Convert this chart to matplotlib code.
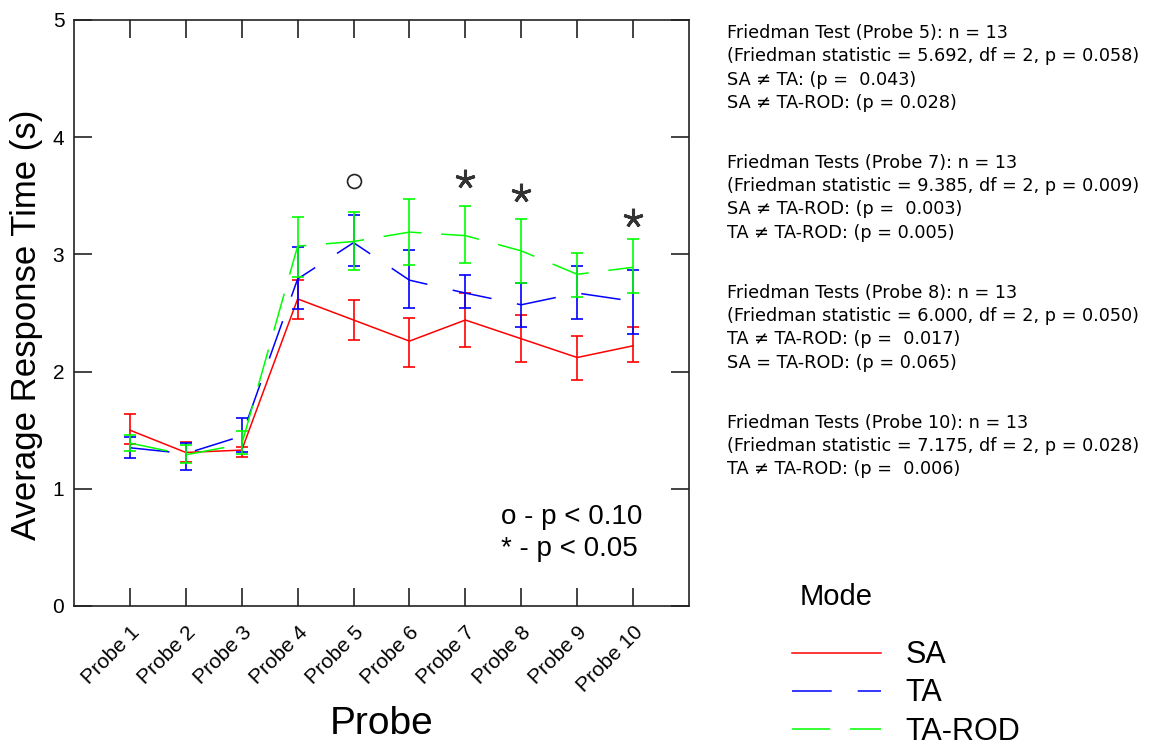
import numpy as np
import matplotlib
matplotlib.use("Agg")
import matplotlib.pyplot as plt

plt.rcParams['font.family'] = ['Liberation Sans', 'DejaVu Sans']

probes = ["Probe 1", "Probe 2", "Probe 3", "Probe 4", "Probe 5",
          "Probe 6", "Probe 7", "Probe 8", "Probe 9", "Probe 10"]

# mean response time per mode, with lower / upper error limits
sa_mean = [1.50, 1.31, 1.33, 2.62, 2.44, 2.26, 2.44, 2.28, 2.12, 2.22]
sa_low = [1.38, 1.23, 1.27, 2.45, 2.27, 2.04, 2.21, 2.08, 1.93, 2.08]
sa_high = [1.64, 1.40, 1.36, 2.78, 2.61, 2.46, 2.67, 2.48, 2.30, 2.38]

ta_mean = [1.35, 1.30, 1.45, 2.79, 3.10, 2.78, 2.67, 2.57, 2.67, 2.60]
ta_low = [1.26, 1.16, 1.31, 2.53, 2.90, 2.54, 2.54, 2.38, 2.45, 2.32]
ta_high = [1.44, 1.39, 1.60, 3.06, 3.34, 3.04, 2.82, 2.76, 2.90, 2.87]

rod_mean = [1.39, 1.29, 1.38, 3.07, 3.11, 3.19, 3.16, 3.03, 2.83, 2.89]
rod_low = [1.32, 1.22, 1.30, 2.81, 2.87, 2.91, 2.93, 2.76, 2.64, 2.67]
rod_high = [1.46, 1.37, 1.49, 3.32, 3.36, 3.47, 3.41, 3.30, 3.01, 3.13]

# significance marks above probes
trend_probe = [5]
trend_y = [3.63]
sig_probes = [7, 8, 10]
sig_y = [3.64, 3.52, 3.31]

stats_blocks = [
    ["Friedman Test (Probe 5): n = 13",
     "(Friedman statistic = 5.692, df = 2, p = 0.058)",
     "SA \u2260 TA: (p =  0.043)",
     "SA \u2260 TA-ROD: (p = 0.028)"],
    ["Friedman Tests (Probe 7): n = 13",
     "(Friedman statistic = 9.385, df = 2, p = 0.009)",
     "SA \u2260 TA-ROD: (p =  0.003)",
     "TA \u2260 TA-ROD: (p = 0.005)"],
    ["Friedman Tests (Probe 8): n = 13",
     "(Friedman statistic = 6.000, df = 2, p = 0.050)",
     "TA \u2260 TA-ROD: (p =  0.017)",
     "SA = TA-ROD: (p = 0.065)"],
    ["Friedman Tests (Probe 10): n = 13",
     "(Friedman statistic = 7.175, df = 2, p = 0.028)",
     "TA \u2260 TA-ROD: (p =  0.006)"],
]

fig = plt.figure(figsize=(11.51, 7.51), dpi=100)
ax = fig.add_axes([0.0643, 0.1931, 0.5343, 0.7803])

x = np.arange(1, len(probes) + 1)

series = [
    ("SA", sa_mean, sa_low, sa_high, "#ff0000", "-"),
    ("TA", ta_mean, ta_low, ta_high, "#0000ff", (0, (26, 17))),
    ("TA-ROD", rod_mean, rod_low, rod_high, "#00ff00", (0, (25, 13))),
]
handles = []
for name, m, lo, hi, col, ls in series:
    m = np.array(m)
    err = [m - np.array(lo), np.array(hi) - m]
    ax.errorbar(x, m, yerr=err, fmt="none", ecolor=col, elinewidth=1.2,
                capsize=4, capthick=1.2)
    line, = ax.plot(x, m, color=col, lw=1.1, linestyle=ls, label=name)
    handles.append(line)

ax.plot(trend_probe, trend_y, "o", ms=10, mfc="none", mec="#222222", mew=1.2)
ax.plot(sig_probes, sig_y, marker=(5, 2, 0), ls="none", ms=14, mew=2.2,
        color="#333333")

ax.set_xlim(0, 11)
ax.set_ylim(0, 5)
ax.set_xticks(x)
ax.set_xticklabels(probes, rotation=45, ha="right", rotation_mode="anchor",
                   fontsize=15)
ax.set_yticks([0, 1, 2, 3, 4, 5])
ax.set_yticklabels(["0", "1", "2", "3", "4", "5"], fontsize=15)
ax.tick_params(axis="both", direction="in", length=13, width=1.2,
               top=True, right=True, color="#222222")
ax.tick_params(axis="x", pad=12)
ax.tick_params(axis="y", pad=7)
for s in ax.spines.values():
    s.set_linewidth(1.2)
    s.set_color("#222222")

ax.set_ylabel("Average Response Time (s)", fontsize=25)
ax.yaxis.set_label_coords(-0.05, 0.48)
ax.set_xlabel("Probe", fontsize=28)
ax.xaxis.set_label_coords(0.5, -0.17)

ax.text(0.695, 0.14, "o - p < 0.10", transform=ax.transAxes, fontsize=20)
ax.text(0.695, 0.085, "* - p < 0.05", transform=ax.transAxes, fontsize=20)

# Friedman test summaries to the right of the plot
W, H = 1151, 751
y = 33
for block in stats_blocks:
    for row in block:
        fig.text(727 / W, 1 - y / H, row, fontsize=12.7, va="center",
                 family=["DejaVu Sans"])
        y += 23.3
    y += 60 - 23.3

fig.text(800 / W, 1 - 597 / H, "Mode", fontsize=21, va="center")
fig.legend(handles=handles, loc="upper left",
           bbox_to_anchor=(780 / W, 1 - 628 / H), frameon=False,
           fontsize=22, handlelength=2.9, handletextpad=0.8,
           labelspacing=0.27, borderaxespad=0.0)

fig.savefig("out.png", dpi=100)
